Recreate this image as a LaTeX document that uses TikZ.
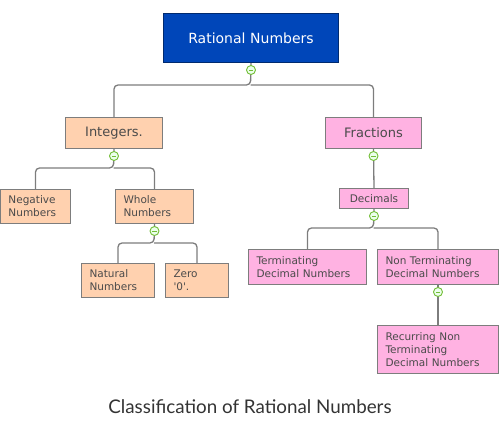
\documentclass[tikz,border=0pt]{standalone}
\usepackage{fontspec}
\setmainfont{DejaVu Sans}
\newfontfamily\captionfont{Lato}
\definecolor{rootblue}{RGB}{0,70,185}
\definecolor{peachfill}{RGB}{255,209,175}
\definecolor{pinkfill}{RGB}{255,178,226}
\definecolor{linkgray}{RGB}{125,125,125}
\definecolor{textgray}{RGB}{75,75,75}
\definecolor{togglegreen}{RGB}{115,190,55}
\tikzset{
  nodebox/.style={draw=linkgray, line width=1pt, anchor=north west, inner xsep=8pt,
    inner ysep=0pt, align=left, text=textgray, font=\fontsize{10.5}{13}\selectfont},
  peachbox/.style={nodebox, fill=peachfill},
  pinkbox/.style={nodebox, fill=pinkfill},
  link/.style={draw=linkgray, line width=1.3pt, rounded corners=4pt},
  toggle/.style={circle, draw=togglegreen, fill=green!8, line width=0.9pt,
    minimum size=9pt, inner sep=0pt,
    path picture={\draw[togglegreen, line width=0.9pt]
      ([xshift=-2.2pt]path picture bounding box.center) --
      ([xshift=2.2pt]path picture bounding box.center);}},
}
\begin{document}
\begin{tikzpicture}[x=1pt, y=-1pt]
  \useasboundingbox (0,0) rectangle (503,422);
  % boxes
  \node[nodebox, fill=rootblue, draw=rootblue!60!black, text=white, align=center,
    text width=159pt, minimum height=49pt, font=\fontsize{14}{16}\selectfont]
    (root) at (163,13) {Rational Numbers};
  \node[peachbox, align=center, text width=81pt, minimum height=31pt,
    font=\fontsize{13}{15}\selectfont] (int) at (65,117) {Integers.};
  \node[pinkbox, align=center, text width=80pt, minimum height=31pt,
    font=\fontsize{13}{15}\selectfont] (frac) at (325,117) {Fractions};
  \node[peachbox, text width=54pt, minimum height=34pt] (neg) at (0,189) {Negative\\Numbers};
  \node[peachbox, text width=62pt, minimum height=34pt] (whole) at (115,189) {Whole\\Numbers};
  \node[peachbox, text width=57pt, minimum height=34pt] (nat) at (81,263) {Natural\\Numbers};
  \node[peachbox, text width=47pt, minimum height=34pt] (zero) at (165,263)
    {Zero\\\textquotesingle 0\textquotesingle.};
  \node[pinkbox, align=center, text width=53pt, minimum height=20pt] (dec) at (339,188) {Decimals};
  \node[pinkbox, text width=102pt, minimum height=35pt] (term) at (248,249) {Terminating\\Decimal Numbers};
  \node[pinkbox, text width=105pt, minimum height=35pt] (nonterm) at (377,249) {Non Terminating\\Decimal Numbers};
  \node[pinkbox, text width=105pt, minimum height=48pt] (rec) at (377,325) {Recurring Non\\Terminating\\Decimal Numbers};
  % connectors
  \coordinate (j0) at (250.5,85);
  \coordinate (j1) at (113.5,168);
  \coordinate (j2) at (154,243);
  \coordinate (j3) at (373.5,228);
  \draw[link] (root.south) -- (j0) -| (int.north);
  \draw[link] (j0) -| (frac.north);
  \draw[link] (int.south) -- (j1) -| (neg.north);
  \draw[link] (j1) -| (whole.north);
  \draw[link] (whole.south) -- (j2) -| (nat.north);
  \draw[link] (j2) -| (zero.north);
  \draw[link] (frac.south) -- (dec.north);
  \draw[link] (dec.south) -- (j3) -| (term.north);
  \draw[link] (j3) -| (nonterm.north);
  \draw[link] (nonterm.south) -- (rec.north);
  % collapse toggles
  \foreach \n in {root,int,frac,whole,dec,nonterm}
    \node[toggle] (t-\n) at ([yshift=-7pt]\n.south) {};
  % caption
  \node[font=\captionfont\fontsize{18.8}{20}\selectfont, text=black!80] (caption) at (250,407)
    {Classification of Rational Numbers};
\end{tikzpicture}
\end{document}
